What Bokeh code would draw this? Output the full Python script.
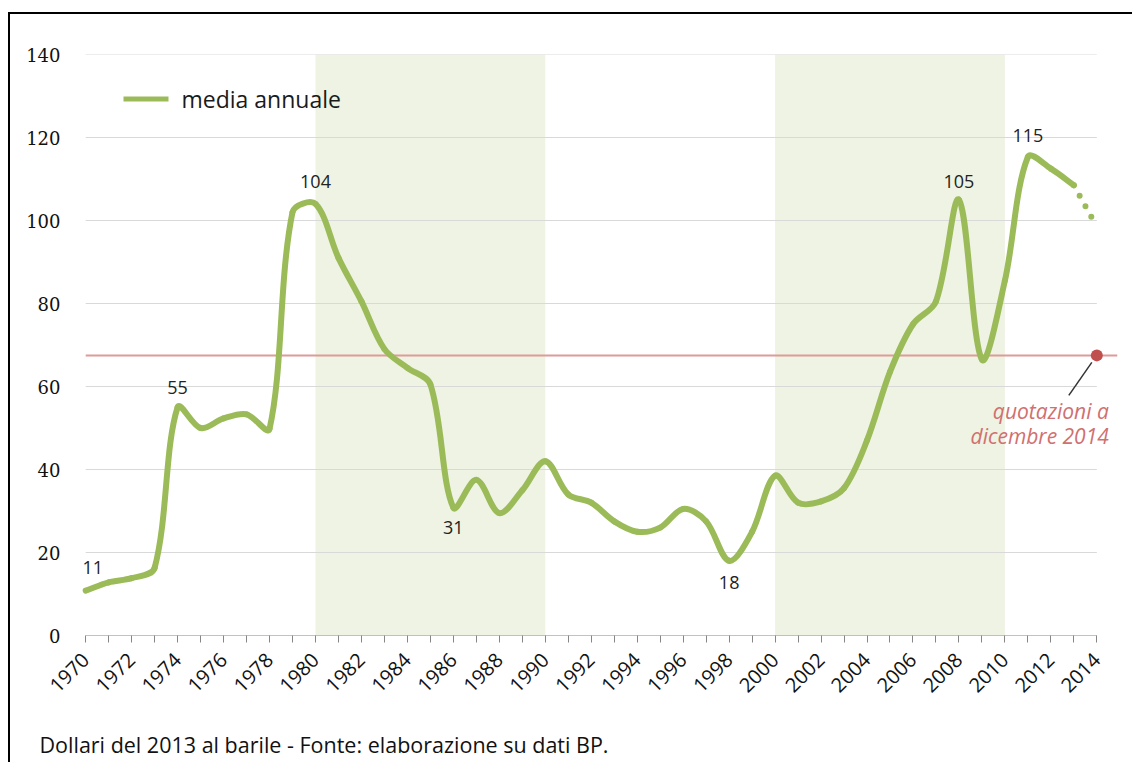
from bokeh.plotting import figure
from bokeh.models import ColumnDataSource, FixedTicker, Label, BoxAnnotation, Title
from bokeh.core.properties import value
from bokeh.embed import file_html
from bokeh.resources import INLINE
import math

# ---------------- data ----------------
years = list(range(1970, 2014))
prices = [10.8, 12.8, 13.8, 16.3, 55.0, 50.0, 52.3, 53.3, 49.8, 102.0,
          104.0, 91.0, 80.5, 69.0, 64.5, 60.5, 30.8, 37.5, 29.5, 35.0,
          42.0, 34.0, 32.0, 27.5, 25.0, 26.0, 30.5, 27.5, 18.0, 25.0,
          38.5, 32.0, 32.3, 35.5, 47.0, 63.5, 75.0, 80.5, 105.0, 66.5,
          85.5, 115.3, 112.5, 108.5]
proj_years = [2013, 2014]
proj_prices = [108.5, 98.5]
label_years = [1970, 1974, 1980, 1986, 1998, 2008, 2011]
dec_year = 2014
dec_price = 67.5
shade_start = [1980, 2000]
shade_end = [1990, 2010]
y_ticks = [0, 20, 40, 60, 80, 100, 120, 140]
x_major = list(range(1970, 2015, 2))
x_minor = list(range(1971, 2014, 2))

GREEN = "#9BBB59"
FONT = "Open Sans"
PX_X = 22.98   # pixels per year
PX_Y = 4.15    # pixels per dollar

p = figure(width=1132, height=762, output_backend="svg", toolbar_location=None,
           x_range=(1969.6, 2014.9), y_range=(0, 140),
           min_border_left=76, min_border_right=15, min_border_top=54,
           min_border_bottom=127,
           styles={"box-shadow": "inset 8px 12px 0px 0px #ffffff, inset 10px 14px 0px 0px #000000"})
p.border_fill_color = None
p.outline_line_color = None
p.xgrid.grid_line_color = None
p.ygrid.grid_line_color = None

# shaded decades
p.quad(left=shade_start, right=shade_end, top=[y_ticks[-1]] * 2, bottom=[0] * 2,
       fill_color="#EEF3E3", line_color=None)

# gridlines
gy = y_ticks[1:]
p.segment(x0=[years[0]] * len(gy), x1=[dec_year] * len(gy), y0=gy, y1=gy,
          line_color="#D9D9D9", line_width=1)
p.segment(x0=[years[0]], x1=[dec_year], y0=[0], y1=[0], line_color="#868686", line_width=1)

# red December 2014 line
p.segment(x0=[years[0]], x1=[2014.9], y0=[dec_price], y1=[dec_price],
          line_color="#E09A9A", line_width=2)

# smoothed series (length-weighted bezier, like spreadsheet smoothing)
n = len(years)
P = [(years[i] * PX_X, prices[i] * PX_Y) for i in range(n)]
out_cp, in_cp = [], []
for i in range(n):
    a = P[max(i - 1, 0)]
    b = P[min(i + 1, n - 1)]
    tx, ty = b[0] - a[0], b[1] - a[1]
    dp = math.hypot(P[i][0] - a[0], P[i][1] - a[1])
    dn = math.hypot(P[i][0] - b[0], P[i][1] - b[1])
    s = dp + dn if dp + dn > 0 else 1
    out_cp.append((P[i][0] + tx * dn / s / 3, P[i][1] + ty * dn / s / 3))
    in_cp.append((P[i][0] - tx * dp / s / 3, P[i][1] - ty * dp / s / 3))
x0 = years[:-1]; y0 = prices[:-1]; x1 = years[1:]; y1 = prices[1:]
cx0 = [out_cp[i][0] / PX_X for i in range(n - 1)]
cy0 = [out_cp[i][1] / PX_Y for i in range(n - 1)]
cx1 = [in_cp[i + 1][0] / PX_X for i in range(n - 1)]
cy1 = [in_cp[i + 1][1] / PX_Y for i in range(n - 1)]
p.bezier(x0=x0, y0=y0, x1=x1, y1=y1, cx0=cx0, cy0=cy0, cx1=cx1, cy1=cy1,
         line_color=GREEN, line_width=6, line_cap="round")

# dotted projection
p.line(proj_years, proj_prices, line_color=GREEN, line_width=6, line_cap="round",
       line_dash="0 12")

# legend (manual)
p.add_layout(BoxAnnotation(left=47, right=92, bottom=534, top=539,
                           left_units="screen", right_units="screen",
                           top_units="screen", bottom_units="screen",
                           fill_color=GREEN, fill_alpha=1, line_color=None))
p.add_layout(Label(x=105, y=537, x_units="screen", y_units="screen",
                   text="media annuale", text_font=FONT, text_font_size="23px",
                   text_color="#1a1a1a", text_baseline="middle"))

# value labels
lab_vals = [prices[years.index(y)] for y in label_years]
lab_text = [str(int(round(v))) for v in lab_vals]
lab_dy = [-23, -20, -22, 20, 22, -18, -22]
lab_dx = [7, 0, 0, 0, 0, 0, 0]
src = ColumnDataSource(dict(x=label_years, y=lab_vals, t=lab_text, dy=lab_dy, dx=lab_dx))
p.text(x="x", y="y", text="t", x_offset="dx", y_offset="dy", source=src,
       text_font=value(FONT), text_font_size="18px", text_color="#222222",
       text_align="center", text_baseline="middle")

# December 2014 point and note
p.segment(x0=[dec_year - 5 / PX_X], y0=[dec_price - 7 / PX_Y],
          x1=[dec_year - 28 / PX_X], y1=[dec_price - 40 / PX_Y],
          line_color="#333333", line_width=1.5)
p.scatter([dec_year], [dec_price], size=12, fill_color="#C0504D", line_color=None)
p.text(x=[dec_year, dec_year], y=[dec_price, dec_price],
       text=["quotazioni a", "dicembre 2014"], x_offset=[12, 12], y_offset=[56, 81],
       text_font=value(FONT), text_font_size="21px", text_font_style="italic",
       text_color="#D0706F", text_align="right", text_baseline="middle")

# axes
p.xaxis.ticker = FixedTicker(ticks=x_major, minor_ticks=x_minor)
p.xaxis.axis_line_color = None
p.xaxis.major_tick_line_color = "#868686"
p.xaxis.minor_tick_line_color = "#868686"
p.xaxis.major_tick_out = 7
p.xaxis.major_tick_in = 0
p.xaxis.minor_tick_out = 7
p.xaxis.minor_tick_in = 0
p.xaxis.major_label_orientation = math.pi / 4
p.xaxis.major_label_text_font = FONT
p.xaxis.major_label_text_font_size = "20px"
p.xaxis.major_label_text_color = "#111111"
p.xaxis.major_label_standoff = 14
p.xaxis.axis_label = " "
p.xaxis.axis_label_text_font_size = "2px"
p.xaxis.axis_label_standoff = 21

p.yaxis.ticker = FixedTicker(ticks=y_ticks)
p.yaxis.axis_line_color = None
p.yaxis.major_tick_line_color = None
p.yaxis.minor_tick_line_color = None
p.yaxis.major_label_standoff = 10
p.yaxis.major_label_text_font = "DejaVu Serif"
p.yaxis.major_label_text_font_size = "18px"
p.yaxis.major_label_text_color = "#111111"

# footnote
p.add_layout(Title(text="Dollari del 2013 al barile - Fonte: elaborazione su dati BP.",
                   align="left", offset=-37, standoff=0,
                   text_font=FONT, text_font_size="21.5px", text_font_style="normal",
                   text_color="#111111"), "below")

open("out.html", "w").write(file_html(p, INLINE))
